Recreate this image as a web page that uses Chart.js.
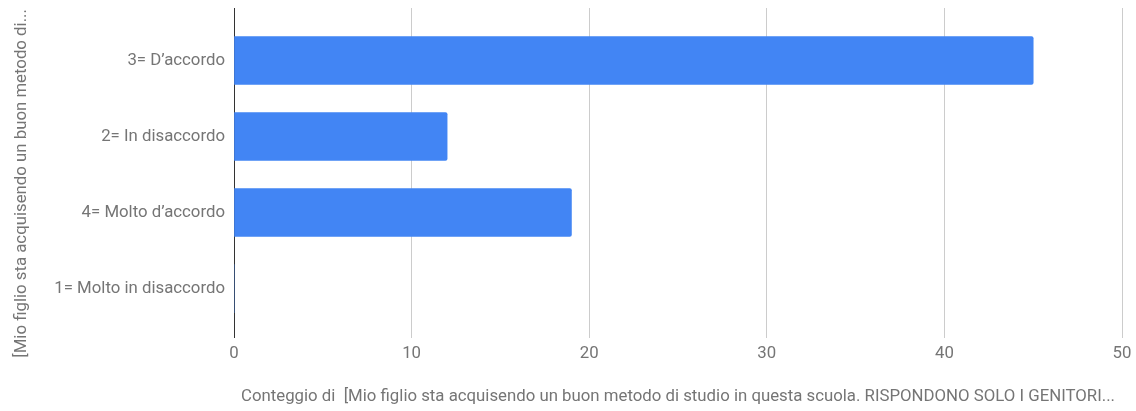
<!DOCTYPE html>
<html>
<head>
<meta charset="utf-8">
<script src="https://cdn.jsdelivr.net/npm/chart.js@4/dist/chart.umd.min.js"></script>
<style>
  html, body { margin: 0; padding: 0; background: #fff; }
  #wrap { width: 1136px; height: 411px; }
</style>
</head>
<body>
<div id="wrap"><canvas id="chart" width="1136" height="411"></canvas></div>
<script>
// risposte (ordine come nel grafico originale)
const categories = ['3= D\u2019accordo', '2= In disaccordo', '4= Molto d\u2019accordo', '1= Molto in disaccordo'];
const counts = [45, 12, 19, 0];
const xTicks = [0, 10, 20, 30, 40, 50];

// trailing nbsp just nudges the rotated title down a bit, like the original
const yTitle = '[Mio figlio sta acquisendo un buon metodo di...\u00a0\u00a0\u00a0\u00a0\u00a0';
const xTitle = 'Conteggio di  [Mio figlio sta acquisendo un buon metodo di studio in questa scuola. RISPONDONO SOLO I GENITORI...';

const textColor = '#757575';
const font = { family: 'Roboto', size: 16.8 };

const points = counts.map((v, i) => ({ x: v, y: i }));

new Chart(document.getElementById('chart'), {
  type: 'bar',
  data: {
    datasets: [{
      data: points,
      backgroundColor: '#4285F4',
      borderWidth: 0,
      borderRadius: (c) => (c.raw && c.raw.x) ? 2 : 0,
      barThickness: 48
    }]
  },
  options: {
    indexAxis: 'y',
    responsive: false,
    animation: false,
    layout: { padding: { left: 12, top: 8, right: 14, bottom: 4 } },
    plugins: { legend: { display: false }, tooltip: { enabled: false } },
    scales: {
      x: {
        type: 'linear',
        min: 0,
        max: 50,
        afterBuildTicks: (s) => { s.ticks = xTicks.map(v => ({ value: v })); },
        afterFit: (s) => { s.height = 69; s.paddingLeft = 0; s.paddingRight = 0; },
        grid: {
          color: (c) => (c.tick && c.tick.value === 0) ? '#333333' : '#cccccc',
          lineWidth: 1,
          drawTicks: false
        },
        border: { display: false },
        ticks: { color: textColor, font: font, padding: 6 },
        title: { display: true, text: xTitle, color: textColor, font: font, padding: 0 }
      },
      y: {
        type: 'linear',
        reverse: true,
        offset: false,
        min: -0.69,
        max: 3.65,
        afterBuildTicks: (s) => { s.ticks = categories.map((_, i) => ({ value: i })); },
        afterFit: (s) => { s.width = 222; s.paddingTop = 0; s.paddingBottom = 0; },
        grid: { display: false, drawTicks: false },
        border: { display: false },
        ticks: {
          color: textColor,
          font: font,
          padding: 9,
          callback: (v) => categories[v]
        },
        title: { display: true, text: yTitle, color: textColor, font: font, padding: 0 }
      }
    }
  }
});
</script>
</body>
</html>
